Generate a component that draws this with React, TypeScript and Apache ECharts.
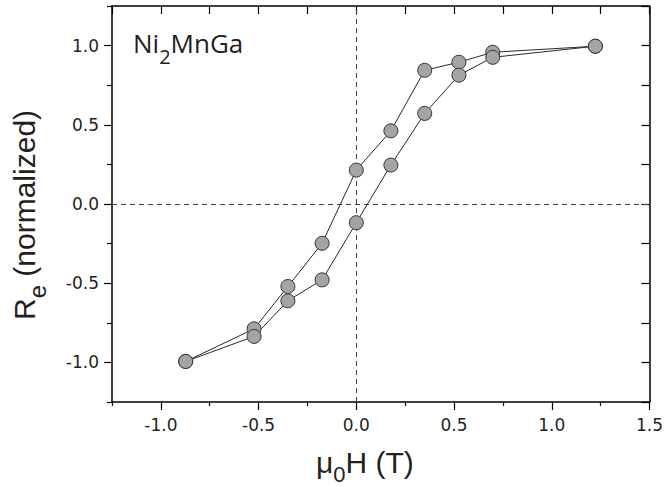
import React, { useEffect, useRef } from "react";
import * as echarts from "echarts";

// Applied field mu0H (T)
const fieldH = [-0.873, -0.523, -0.35, -0.175, 0, 0.177, 0.35, 0.525, 0.698, 1.223];
// Normalized Re, branch 1 (upper) and branch 2 (lower)
const branchUpper = [-0.994, -0.788, -0.521, -0.248, 0.214, 0.462, 0.844, 0.895, 0.958, 0.996];
const branchLower = [-0.994, -0.836, -0.611, -0.479, -0.118, 0.246, 0.572, 0.813, 0.926, 0.996];

const xMajor = [-1, -0.5, 0, 0.5, 1, 1.5];
const xMinor = [-1.25, -0.75, -0.25, 0.25, 0.75, 1.25];
const yMajor = [-1, -0.5, 0, 0.5, 1];
const yMinor = [-1.25, -0.75, -0.25, 0.25, 0.75, 1.25];

const sampleLabel = "Ni";
const sampleSub = "2";
const sampleRest = "MnGa";

function measure(text: string, font: string): number {
  const c = document.createElement("canvas");
  const ctx = c.getContext("2d")!;
  ctx.font = font;
  return ctx.measureText(text).width;
}

export default function App() {
  const ref = useRef<HTMLDivElement>(null);
  useEffect(() => {
    if (!ref.current) return;
    document.body.style.margin = "0";
    const chart = echarts.init(ref.current, undefined, { renderer: "svg" });
    const sans = "'Liberation Sans', Arial, sans-serif";
    const tickFont = "'DejaVu Sans', sans-serif";
    const labelFont = "'Open Sans', sans-serif";

    // X title: mu_0 H (T)
    const mainF = 30;
    const subF = 22;
    const mainFont = `${mainF}px ${sans}`;
    const subFont = `${subF}px ${sans}`;
    const xStart = 316;
    const wMu = measure("\u03bc", mainFont);
    const w0 = measure("0", subFont);
    const xMainMid = 473 - 0.35 * mainF;
    const xSubMid = 482 - 0.35 * subF;

    // Y title: R_e (normalized)
    const ySubF = 24;
    const ySubFont = `${ySubF}px ${sans}`;
    const yStart = 320;
    const wR = measure("R", mainFont);
    const wE = measure("e", ySubFont);
    const yMainMid = 35 - 0.35 * mainF;
    const ySubMid = 46 - 0.35 * ySubF;

    // Sample label
    const nF = 26;
    const nSubF = 20;
    const nFont = `${nF}px ${labelFont}`;
    const nSubFont = `${nSubF}px ${labelFont}`;
    const nStart = 133;
    const wNi = measure(sampleLabel, nFont);
    const w2 = measure(sampleSub, nSubFont);
    const nMid = 52.7 - 0.36 * nF;
    const nSubMid = 63.3 - 0.36 * nSubF;

    const txt = (text: string, x: number, y: number, size: number, family: string, rotation = 0) => ({
      type: "text",
      x,
      y,
      rotation,
      silent: true,
      style: {
        text,
        fontSize: size,
        fontFamily: family,
        fill: "#231f20",
        align: "left",
        verticalAlign: "middle",
      },
    });

    const series = (data: number[], name: string, withMark: boolean) => ({
      type: "line",
      name,
      xAxisIndex: 0,
      yAxisIndex: 0,
      data: fieldH.map((x, i) => [x, data[i]]),
      symbol: "circle",
      symbolSize: 14,
      showSymbol: true,
      lineStyle: { color: "#2a2a2a", width: 1 },
      itemStyle: { color: "#a4a4a6", borderColor: "#333333", borderWidth: 1 },
      z: 3,
      markLine: withMark
        ? {
            silent: true,
            symbol: ["none", "none"],
            label: { show: false },
            lineStyle: { type: [5, 4], color: "#444444", width: 1 },
            data: [{ xAxis: 0 }, { yAxis: 0 }],
            z: 1,
          }
        : undefined,
    });

    const axisLineStyle = { color: "#000", width: 1.5 };
    const tickStyle = { color: "#000", width: 1.2 };

    chart.setOption({
      animation: false,
      backgroundColor: "#ffffff",
      grid: { left: 112, right: 14.5, top: 6, bottom: 85, containLabel: false },
      xAxis: [
        {
          type: "value",
          position: "bottom",
          min: -1.25,
          max: 1.5,
          axisLine: { show: true, onZero: false, lineStyle: axisLineStyle },
          axisTick: { show: true, inside: false, length: 8, customValues: xMajor, lineStyle: tickStyle },
          axisLabel: {
            show: true,
            customValues: xMajor,
            formatter: (v: number) => v.toFixed(1),
            fontFamily: tickFont,
            fontSize: 17,
            color: "#231f20",
            margin: 14,
          },
          splitLine: { show: false },
        },
        {
          type: "value",
          position: "bottom",
          min: -1.25,
          max: 1.5,
          axisLine: { show: false, onZero: false },
          axisTick: { show: true, inside: false, length: 4, customValues: xMinor, lineStyle: tickStyle },
          axisLabel: { show: false },
          splitLine: { show: false },
        },
        {
          type: "value",
          position: "top",
          min: -1.25,
          max: 1.5,
          interval: 0.25,
          axisLine: { show: true, onZero: false, lineStyle: axisLineStyle },
          axisTick: { show: true, inside: true, length: 8, lineStyle: tickStyle },
          axisLabel: { show: false },
          splitLine: { show: false },
        },
      ],
      yAxis: [
        {
          type: "value",
          position: "left",
          min: -1.25,
          max: 1.25,
          axisLine: { show: true, onZero: false, lineStyle: axisLineStyle },
          axisTick: { show: true, inside: false, length: 8, customValues: yMajor, lineStyle: tickStyle },
          axisLabel: {
            show: true,
            customValues: yMajor,
            formatter: (v: number) => v.toFixed(1),
            fontFamily: tickFont,
            fontSize: 17,
            color: "#231f20",
            margin: 13,
          },
          splitLine: { show: false },
        },
        {
          type: "value",
          position: "left",
          min: -1.25,
          max: 1.25,
          axisLine: { show: false, onZero: false },
          axisTick: { show: true, inside: false, length: 5, customValues: yMinor, lineStyle: tickStyle },
          axisLabel: { show: false },
          splitLine: { show: false },
        },
        {
          type: "value",
          position: "right",
          min: -1.25,
          max: 1.25,
          interval: 0.25,
          axisLine: { show: true, onZero: false, lineStyle: axisLineStyle },
          axisTick: { show: true, inside: true, length: 8, lineStyle: tickStyle },
          axisLabel: { show: false },
          splitLine: { show: false },
        },
      ],
      series: [series(branchUpper, "upper", true), series(branchLower, "lower", false)],
      graphic: [
        // x-axis title
        txt("\u03bc", xStart, xMainMid, mainF, sans),
        txt("0", xStart + wMu, xSubMid, subF, sans),
        txt("H (T)", xStart + wMu + w0, xMainMid, mainF, sans),
        // y-axis title (rotated)
        txt("R", yMainMid, yStart, mainF, sans, Math.PI / 2),
        txt("e", ySubMid, yStart - wR, ySubF, sans, Math.PI / 2),
        txt(" (normalized)", yMainMid, yStart - wR - wE, mainF, sans, Math.PI / 2),
        // sample label
        txt(sampleLabel, nStart, nMid, nF, labelFont),
        txt(sampleSub, nStart + wNi, nSubMid, nSubF, labelFont),
        txt(sampleRest, nStart + wNi + w2, nMid, nF, labelFont),
      ],
    });
    return () => chart.dispose();
  }, []);
  return <div ref={ref} style={{ position: "fixed", left: 0, top: 0, width: 666, height: 487 }} />;
}
